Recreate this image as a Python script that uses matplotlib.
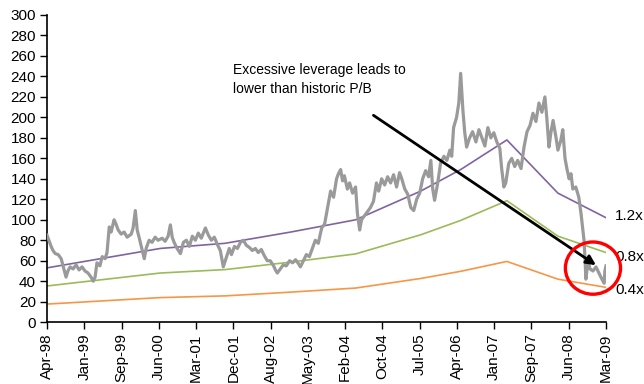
import matplotlib
matplotlib.use("Agg")
import matplotlib.pyplot as plt
from matplotlib.patches import Ellipse
import numpy as np

plt.rcParams['font.family'] = ['Liberation Sans', 'DejaVu Sans']

# category axis: one tick label per ~190 trading days
tick_labels = ["Apr-98", "Jan-99", "Sep-99", "Jun-00", "Mar-01", "Dec-01", "Aug-02",
               "May-03", "Feb-04", "Oct-04", "Jul-05", "Apr-06", "Jan-07", "Sep-07",
               "Jun-08", "Mar-09"]

# share price, positions given in tick units along the category axis
price_pos = [0.00, 0.05, 0.11, 0.16, 0.22, 0.30, 0.38, 0.43, 0.51, 0.56, 0.62, 0.70, 0.78,
             0.86, 0.94, 1.02, 1.10, 1.18, 1.24, 1.29, 1.34, 1.42, 1.48, 1.56, 1.61, 1.67,
             1.72, 1.80, 1.85, 1.91, 1.99, 2.07, 2.15, 2.26, 2.31, 2.37, 2.42, 2.47, 2.53,
             2.61, 2.66, 2.74, 2.82, 2.90, 2.98, 3.09, 3.17, 3.25, 3.31, 3.36, 3.41, 3.49,
             3.58, 3.66, 3.74, 3.82, 3.90, 3.98, 4.06, 4.14, 4.25, 4.33, 4.41, 4.49, 4.57,
             4.65, 4.73, 4.81, 4.89, 4.95, 5.03, 5.11, 5.19, 5.27, 5.35, 5.43, 5.51, 5.59,
             5.67, 5.75, 5.83, 5.91, 5.99, 6.08, 6.13, 6.18, 6.26, 6.34, 6.42, 6.51, 6.59,
             6.67, 6.75, 6.80, 6.88, 6.96, 7.04, 7.12, 7.20, 7.28, 7.37, 7.45, 7.53, 7.61,
             7.69, 7.77, 7.82, 7.88, 7.93, 7.98, 8.06, 8.12, 8.20, 8.28, 8.33, 8.39, 8.44,
             8.52, 8.60, 8.68, 8.76, 8.84, 8.90, 8.98, 9.06, 9.14, 9.22, 9.30, 9.38, 9.46,
             9.52, 9.60, 9.68, 9.76, 9.84, 9.92, 10.00, 10.08, 10.16, 10.24, 10.30, 10.35,
             10.40, 10.48, 10.56, 10.65, 10.73, 10.81, 10.86, 10.91, 10.99, 11.05, 11.10,
             11.16, 11.21, 11.26, 11.34, 11.42, 11.51, 11.59, 11.67, 11.75, 11.83, 11.91,
             11.99, 12.07, 12.15, 12.20, 12.26, 12.31, 12.39, 12.47, 12.55, 12.63, 12.72,
             12.80, 12.88, 12.96, 13.04, 13.12, 13.20, 13.28, 13.36, 13.41, 13.47, 13.52,
             13.58, 13.66, 13.71, 13.79, 13.84, 13.90, 13.95, 14.01, 14.06, 14.11, 14.19,
             14.27, 14.33, 14.38, 14.41, 14.44, 14.46, 14.52, 14.57, 14.65, 14.73, 14.81,
             14.89, 14.95, 14.97, 15.00]
price = [85, 80, 74, 70, 67, 66, 62, 55, 44, 50, 54, 52, 56, 51, 54, 50, 48, 44, 40, 44,
         58, 55, 64, 62, 68, 93, 88, 100, 96, 90, 86, 88, 83, 86, 92, 109, 90, 83, 74, 62,
         72, 80, 78, 83, 80, 82, 79, 84, 95, 83, 78, 72, 67, 78, 80, 74, 84, 80, 87, 82,
         92, 85, 80, 83, 76, 70, 54, 63, 72, 66, 74, 72, 78, 80, 75, 73, 70, 72, 68, 71,
         65, 60, 60, 55, 51, 48, 52, 56, 55, 60, 58, 61, 57, 54, 60, 66, 64, 72, 80, 77,
         92, 96, 112, 128, 122, 140, 145, 149, 138, 143, 130, 136, 126, 132, 106, 90, 100,
         104, 108, 112, 118, 136, 128, 140, 134, 142, 136, 144, 132, 146, 140, 130, 125,
         112, 109, 120, 126, 140, 148, 142, 158, 130, 119, 135, 155, 162, 158, 168, 162,
         190, 200, 214, 243, 207, 185, 171, 180, 186, 176, 188, 180, 172, 190, 180, 185,
         176, 170, 150, 132, 136, 155, 160, 152, 158, 150, 171, 186, 192, 204, 196, 214,
         205, 220, 200, 171, 185, 197, 180, 168, 178, 188, 160, 150, 140, 145, 130, 132,
         122, 106, 90, 80, 60, 42, 60, 52, 50, 54, 48, 42, 38, 50, 55]

# book value per share (annual), same tick-unit positions
bv_pos = [0.00, 3.04, 4.78, 6.53, 8.28, 10.03, 11.10, 12.34, 13.71, 15.00]
book_value = [44.2, 60.0, 64.2, 73.3, 83.3, 106.7, 124.2, 148.3, 105.0, 85.0]

multiples = [1.2, 0.8, 0.4]
multiple_labels = ["1.2x", "0.8x", "0.4x"]
label_values = [104, 64, 31]
multiple_colors = ["#8064A2", "#9BBB59", "#F79646"]

fig = plt.figure(figsize=(6.44, 3.84), dpi=100)
ax = fig.add_axes([0.073, 0.161, 0.868, 0.8])

ax.plot(price_pos, price, color="#9A9A9A", lw=2.3, zorder=3)
bv = np.array(book_value)
for m, c in zip(multiples, multiple_colors):
    ax.plot(bv_pos, bv * m, color=c, lw=1.2, zorder=2)

for lab, v in zip(multiple_labels, label_values):
    ax.text(15.25, v, lab, fontsize=11, va="center", ha="left", clip_on=False)

ax.set_xlim(0, 15)
ax.set_ylim(0, 300)
ax.set_yticks(np.arange(0, 301, 20))
ax.set_xticks(np.arange(len(tick_labels)))
ax.set_xticklabels(tick_labels, rotation=90)
ax.tick_params(axis="both", direction="out", length=5, width=1, labelsize=11, pad=3)
for s in ["top", "right"]:
    ax.spines[s].set_visible(False)
for s in ["left", "bottom"]:
    ax.spines[s].set_linewidth(1.2)

ax.text(5.0, 237, "Excessive leverage leads to\nlower than historic P/B", fontsize=10,
        va="center", ha="left", linespacing=1.5)
ax.annotate("", xy=(14.73, 55.7), xytext=(8.76, 202),
            arrowprops=dict(arrowstyle="-|>", color="black", lw=2,
                            mutation_scale=14, shrinkA=0, shrinkB=0), zorder=5)

ax.add_patch(Ellipse((14.65, 52.8), 1.48, 51, fill=False, edgecolor="#FF0000",
                     lw=2.4, clip_on=False, zorder=6))

fig.savefig("out.png", dpi=100)
